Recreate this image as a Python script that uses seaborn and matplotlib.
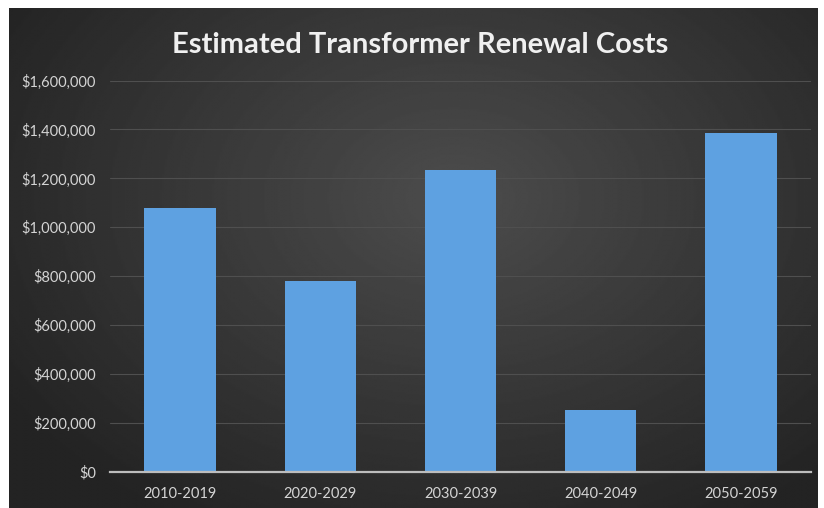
import numpy as np
import pandas as pd
import matplotlib
matplotlib.use("Agg")
import matplotlib.pyplot as plt
from matplotlib.ticker import FuncFormatter, MultipleLocator
import seaborn as sns

# Chart data
periods = ["2010-2019", "2020-2029", "2030-2039", "2040-2049", "2050-2059"]
costs = [1080000, 780000, 1235000, 255000, 1385000]
title = "Estimated Transformer Renewal Costs"

df = pd.DataFrame({"period": periods, "cost": costs})

sns.set_style("white")
plt.rcParams["font.family"] = ["Lato", "DejaVu Sans"]

W, H = 824, 508
fig = plt.figure(figsize=(W / 100, H / 100), dpi=100, facecolor="white")

# Dark panel with a soft radial highlight
bg = fig.add_axes([9 / W, 0, (818 - 9) / W, (H - 8) / H], zorder=-5)
yy, xx = np.mgrid[0:1:300j, 0:1:500j]
d = np.sqrt(((xx - 0.55) / 0.65) ** 2 + ((yy - 0.38) / 0.75) ** 2)
shade = np.clip(0.30 - 0.16 * d, 0.14, 0.31)
bg.imshow(shade, cmap="gray", vmin=0, vmax=1, aspect="auto",
          extent=[0, 1, 1, 0], interpolation="bilinear")
bg.set_axis_off()

ax = fig.add_axes([110 / W, (H - 472) / H, 701 / W, (472 - 80.5) / H])
ax.set_facecolor("none")

sns.barplot(data=df, x="period", y="cost", color="#5ea1e1", width=0.51,
            saturation=1, linewidth=0, edgecolor="none", ax=ax, zorder=3)

ax.set_xlim(-0.5, 4.5)
ax.set_ylim(0, 1600000)
ax.yaxis.set_major_locator(MultipleLocator(200000))
ax.yaxis.set_major_formatter(FuncFormatter(lambda v, p: f"${v:,.0f}"))
ax.grid(axis="y", color="#4f4f4f", linewidth=0.8, zorder=0)
ax.grid(axis="x", visible=False)
ax.set_axisbelow(True)

for s in ["top", "right", "left"]:
    ax.spines[s].set_visible(False)
ax.spines["bottom"].set_color("#bdbdbd")
ax.spines["bottom"].set_linewidth(1.6)
ax.spines["bottom"].set_zorder(4)

ax.set_xlabel("")
ax.set_ylabel("")
ax.tick_params(axis="y", length=0, pad=10, labelsize=10.5, labelcolor="#d4d4d4")
ax.tick_params(axis="x", length=0, pad=11, labelsize=10.5, labelcolor="#d4d4d4")

fig.text(420 / W, 1 - 45 / H, title, ha="center", va="center",
         fontsize=21, fontweight="bold", color="#f0f0f0")

fig.savefig("out.png", dpi=100, facecolor="white")
